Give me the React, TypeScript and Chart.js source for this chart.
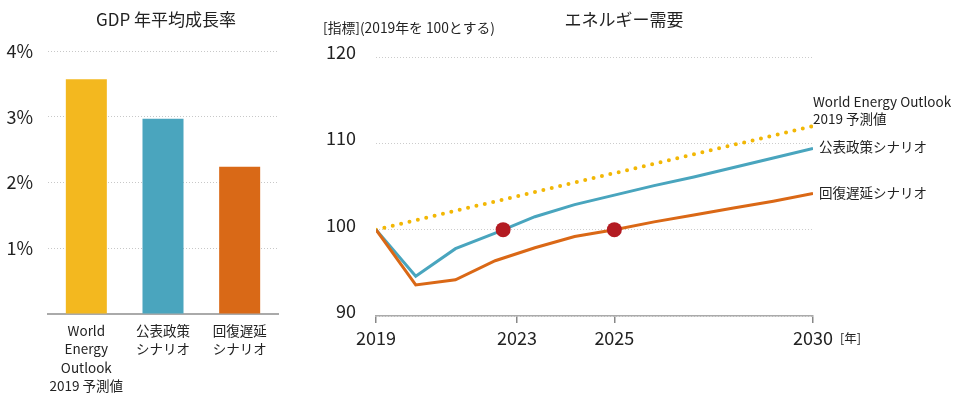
import React, { useEffect, useRef } from "react";
import { Chart, registerables } from "chart.js";
Chart.register(...registerables);

const FONT = "'Noto Sans CJK JP', 'Noto Sans', sans-serif";
const TEXT = "#222222";

// Left chart: GDP average annual growth
const gdpCategories = [["World", "Energy", "Outlook", "2019 予測値"], ["公表政策", "シナリオ"], ["回復遅延", "シナリオ"]];
const gdpValues = [3.57, 2.97, 2.24];
const gdpColors = ["#F3B81F", "#4AA5BE", "#D96917"];
const gdpTicks = [0, 1, 2, 3, 4];

// Right chart: energy demand index (2019 = 100)
const years = [2019, 2020, 2021, 2022, 2023, 2024, 2025, 2026, 2027, 2028, 2029, 2030];
const statedPolicies = [100, 94.6, 97.8, 99.6, 101.5, 102.9, 104.0, 105.1, 106.1, 107.2, 108.3, 109.4];
const delayedRecovery = [100, 93.6, 94.2, 96.4, 97.9, 99.2, 100, 100.9, 101.7, 102.5, 103.3, 104.2];
const weoYears = [2019, 2030];
const weoValues = [100, 112];
const recoveryYears = [2022.2, 2025];
const recoveryValues = [100, 100];
const xTickValues = [2019, 2022.55, 2025, 2030];
const xTickLabels = ["2019", "2023", "2025", "2030"];
const yTicks = [90, 100, 110, 120];

function txt(ctx: CanvasRenderingContext2D, s: string, x: number, y: number, size: number, align: CanvasTextAlign = "left") {
  ctx.save();
  ctx.font = `${size}px ${FONT}`;
  ctx.fillStyle = TEXT;
  ctx.textAlign = align;
  ctx.textBaseline = "middle";
  ctx.fillText(s, x, y);
  ctx.restore();
}

export default function App() {
  const leftRef = useRef<HTMLCanvasElement>(null);
  const rightRef = useRef<HTMLCanvasElement>(null);

  useEffect(() => {
    const left = new Chart(leftRef.current!, {
      type: "bar",
      data: {
        labels: gdpCategories as any,
        datasets: [
          {
            data: gdpValues,
            backgroundColor: gdpColors,
            borderWidth: 0,
            categoryPercentage: 1,
            barPercentage: 0.535,
          },
        ],
      },
      options: {
        responsive: false,
        animation: false,
        layout: { padding: { top: 51, right: 17, left: 0, bottom: 0 } },
        plugins: { legend: { display: false }, tooltip: { enabled: false } },
        scales: {
          x: {
            grid: { display: false, drawTicks: false },
            border: { display: true, color: "#aaaaaa", width: 2 },
            ticks: {
              color: TEXT,
              font: { family: FONT, size: 13.5, lineHeight: 1.35 },
              padding: 8,
              maxRotation: 0,
              autoSkip: false,
            },
            afterFit: (s: any) => {
              s.height = 85;
            },
          },
          y: {
            min: 0,
            max: 4,
            afterBuildTicks: (s: any) => {
              s.ticks = gdpTicks.map((v) => ({ value: v }));
            },
            grid: { color: "#c8c8c8", lineWidth: 1, drawTicks: false },
            border: { display: false, dash: [1, 2] },
            ticks: {
              color: TEXT,
              font: { family: FONT, size: 18 },
              padding: 15,
              callback: (v: any) => (v === 0 ? "" : `${v}%`),
            },
            afterFit: (s: any) => {
              s.width = 48;
            },
          },
        },
      },
      plugins: [
        {
          id: "leftText",
          afterDraw: (chart: any) => {
            txt(chart.ctx, "GDP 年平均成長率", 166, 20, 17, "center");
          },
        },
      ],
    });

    const right = new Chart(rightRef.current!, {
      type: "line",
      data: {
        datasets: [
          {
            data: recoveryYears.map((x, i) => ({ x, y: recoveryValues[i] })),
            showLine: false,
            pointRadius: 7.5,
            pointBackgroundColor: "#B31B22",
            pointBorderWidth: 0,
            borderWidth: 0,
          },
          {
            data: years.map((x, i) => ({ x, y: delayedRecovery[i] })),
            borderColor: "#DA6816",
            borderWidth: 3,
            pointRadius: 0,
            tension: 0,
          },
          {
            data: years.map((x, i) => ({ x, y: statedPolicies[i] })),
            borderColor: "#49A5BE",
            borderWidth: 3,
            pointRadius: 0,
            tension: 0,
          },
          {
            data: weoYears.map((x, i) => ({ x, y: weoValues[i] })),
            borderColor: "#F2B705",
            borderWidth: 4,
            borderDash: [0, 8.6],
            borderCapStyle: "round",
            pointRadius: 0,
          },
        ],
      },
      options: {
        responsive: false,
        animation: false,
        layout: { padding: { top: 57, right: 147, left: 0, bottom: 0 } },
        plugins: { legend: { display: false }, tooltip: { enabled: false } },
        scales: {
          x: {
            type: "linear",
            min: 2019,
            max: 2030,
            afterBuildTicks: (s: any) => {
              s.ticks = xTickValues.map((v) => ({ value: v }));
            },
            grid: { drawOnChartArea: false, drawTicks: true, tickLength: 7, color: "#888888", lineWidth: 1.5 },
            border: { display: true, color: "#aaaaaa", width: 1.5 },
            ticks: {
              color: TEXT,
              font: { family: FONT, size: 18 },
              padding: 4,
              maxRotation: 0,
              autoSkip: false,
              callback: (_v: any, i: number) => xTickLabels[i],
            },
            afterFit: (s: any) => {
              s.height = 83;
            },
          },
          y: {
            min: 90,
            max: 120,
            afterBuildTicks: (s: any) => {
              s.ticks = yTicks.map((v) => ({ value: v }));
            },
            grid: { color: "#cccccc", lineWidth: 1, drawTicks: false },
            border: { display: false, dash: [1, 2] },
            ticks: {
              color: TEXT,
              font: { family: FONT, size: 18 },
              padding: 20,
              labelOffset: -5,
            },
            afterFit: (s: any) => {
              s.width = 76;
            },
          },
        },
      },
      plugins: [
        {
          id: "rightText",
          afterDraw: (chart: any) => {
            const c = chart.ctx;
            txt(c, "エネルギー需要", 324, 20, 17, "center");
            txt(c, "[指標](2019年を 100とする)", 23, 28, 13.8);
            txt(c, "World Energy Outlook", 513, 102, 13.5);
            txt(c, "2019 予測値", 513, 119, 13.5);
            txt(c, "公表政策シナリオ", 519, 147, 13.5);
            txt(c, "回復遅延シナリオ", 519, 193, 13.5);
            txt(c, "[年]", 540, 338, 12.5);
          },
        },
      ],
    });

    return () => {
      left.destroy();
      right.destroy();
    };
  }, []);

  return (
    <div style={{ position: "absolute", left: 0, top: 0, width: 960, height: 399, background: "#fff" }}>
      <canvas ref={leftRef} width={295} height={399} style={{ position: "absolute", left: 0, top: 0 }} />
      <canvas ref={rightRef} width={660} height={399} style={{ position: "absolute", left: 300, top: 0 }} />
    </div>
  );
}
